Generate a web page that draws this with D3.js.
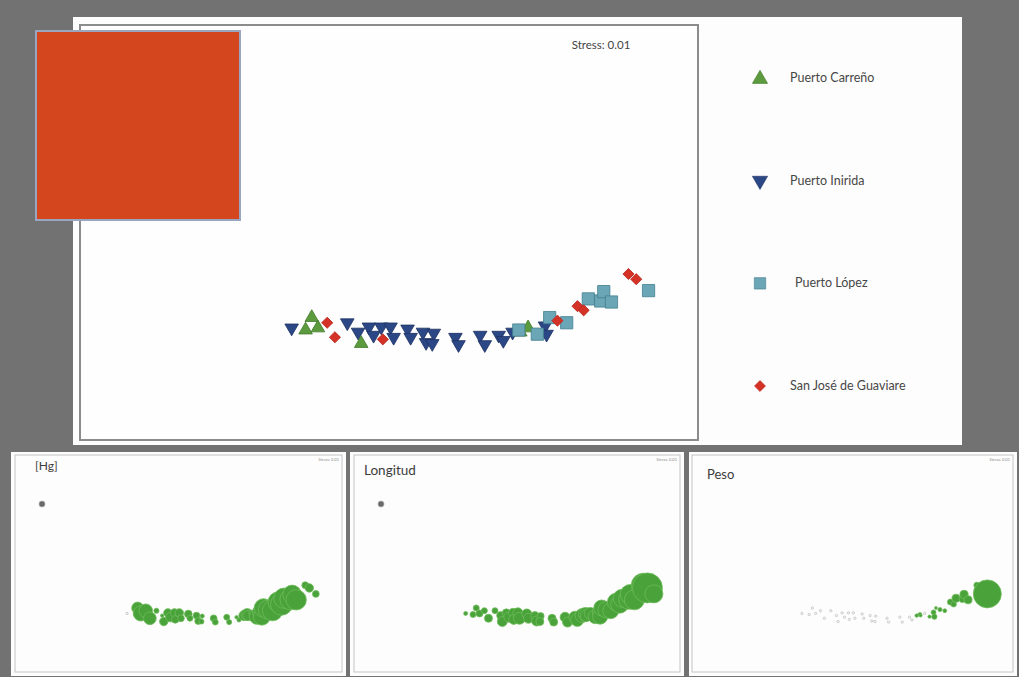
<!DOCTYPE html>
<html>
<head>
<meta charset="utf-8">
<script src="https://cdn.jsdelivr.net/npm/d3@7"></script>
<style>
  html, body { margin: 0; padding: 0; background: #727272; }
  svg { display: block; font-family: Lato, "Open Sans", sans-serif; }
</style>
</head>
<body>
<svg id="chart" width="1019" height="677"></svg>
<script>
// NMDS ordination of fish samples by locality, with bubble plots of three covariates
const siteNames = ["Puerto Carreño", "Puerto Inirida", "Puerto López", "San José de Guaviare"];
const site   = ["I","C","C","C","D","D","I","I","C","I","I","I","D","I","I","I","I","I","I","I","I","I","I","I","I","I","I","I","L","C","C","L","I","I","L","D","L","D","D","L","L","L","L","D","D","L"];
const nmds1  = [-0.63,-0.54,-0.50,-0.46,-0.40,-0.35,-0.27,-0.20,-0.18,-0.13,-0.10,-0.05,-0.04,0.01,0.03,0.12,0.14,0.22,0.24,0.29,0.28,0.43,0.45,0.59,0.62,0.71,0.74,0.80,0.84,0.85,0.90,0.96,1.01,1.02,1.04,1.09,1.15,1.22,1.26,1.29,1.37,1.39,1.44,1.55,1.60,1.68];
const nmds2  = [-0.92,-0.94,-0.82,-0.92,-0.87,-1.01,-0.87,-0.96,-1.07,-0.91,-0.99,-0.91,-1.03,-0.91,-1.01,-0.93,-1.01,-0.96,-1.06,-0.97,-1.07,-1.01,-1.08,-0.99,-1.08,-0.99,-1.04,-0.96,-0.94,-0.96,-0.92,-0.98,-0.90,-0.98,-0.82,-0.85,-0.87,-0.71,-0.75,-0.64,-0.66,-0.57,-0.67,-0.40,-0.45,-0.56];
const hg       = [0.10,0.12,0.70,0.90,0.80,0.75,0.30,0.20,0.50,0.50,0.55,0.50,0.45,0.50,0.40,0.45,0.35,0.40,0.40,0.25,0.30,0.40,0.35,0.35,0.30,0.20,0.25,0.60,0.70,0.60,0.40,0.90,1.00,1.00,1.10,1.10,1.20,1.20,1.30,1.20,1.25,1.10,1.20,0.40,0.50,0.40];
const longitud = [8,12,12,14,12,16,12,16,20,16,20,18,20,20,24,20,20,16,20,14,16,16,16,20,20,24,26,28,28,24,24,28,28,30,32,32,32,36,36,36,40,40,40,48,60,36];
const peso     = [10,15,20,25,15,30,10,20,30,15,25,20,30,25,35,20,25,20,30,15,20,40,35,60,50,90,120,380,420,300,250,350,520,560,300,450,420,640,600,860,700,880,860,650,700,3000];
const stressLabel = "Stress: 0.01";
const panelTitles = ["[Hg]", "Longitud", "Peso"];

const svg = d3.select("#chart");

// style per locality
const siteStyle = {
  C: { fill: "#5c9a3e", stroke: "#3f7a2a", type: d3.symbolTriangle, size: 80, rot: 0 },
  I: { fill: "#2c4785", stroke: "#1d3163", type: d3.symbolTriangle, size: 80, rot: 180 },
  L: { fill: "#6aa6b6", stroke: "#43808f", type: d3.symbolSquare, size: 150, rot: 0 },
  D: { fill: "#d43227", stroke: "#b8281f", type: d3.symbolSquare, size: 62, rot: 45 }
};
const siteKeys = ["C", "I", "L", "D"];

// top panel
svg.append("rect").attr("x", 73).attr("y", 17).attr("width", 889).attr("height", 428).attr("fill", "#fdfdfd");
const main = { x0: 80, x1: 698, y0: 25, y1: 440 };
svg.append("rect").attr("x", main.x0).attr("y", main.y0)
  .attr("width", main.x1 - main.x0).attr("height", main.y1 - main.y0)
  .attr("fill", "#fefefe").attr("stroke", "#8c8c8c").attr("stroke-width", 2);

const x = d3.scaleLinear().domain([-2, 2]).range([main.x0, main.x1]);
const y = d3.scaleLinear().domain([-2, 2]).range([main.y1, main.y0]);

const pts = site.map((s, i) => ({ s, x: nmds1[i], y: nmds2[i], hg: hg[i], len: longitud[i], w: peso[i] }));

// draw in locality order so López/Guaviare sit on top
const drawOrder = ["I", "C", "L", "D"];
drawOrder.forEach(k => {
  svg.append("g").selectAll("path").data(pts.filter(p => p.s === k)).join("path")
    .attr("d", d3.symbol().type(siteStyle[k].type).size(siteStyle[k].size))
    .attr("transform", p => `translate(${x(p.x)},${y(p.y)}) rotate(${siteStyle[k].rot})`)
    .attr("fill", siteStyle[k].fill)
    .attr("stroke", siteStyle[k].stroke)
    .attr("stroke-width", 0.8);
});

svg.append("text").attr("x", 601).attr("y", 49).attr("text-anchor", "middle")
  .attr("font-size", 11.5).attr("fill", "#444").text(stressLabel);

// legend
const legendY = d3.scalePoint().domain(siteKeys).range([78, 386]);
const lg = svg.append("g");
siteKeys.forEach((k, i) => {
  const st = siteStyle[k];
  lg.append("path")
    .attr("d", d3.symbol().type(st.type).size(k === "L" ? 130 : k === "D" ? 60 : 100))
    .attr("transform", `translate(760,${legendY(k) + (k === "C" ? 1 : 0)}) rotate(${st.rot})`)
    .attr("fill", st.fill).attr("stroke", st.stroke).attr("stroke-width", 0.6);
  lg.append("text").attr("x", k === "L" ? 795 : 790).attr("y", legendY(k) + 4)
    .attr("font-size", 12.5).attr("fill", "#474747").text(siteNames[i]);
});

// orange block in the upper left
svg.append("rect").attr("x", 36).attr("y", 31).attr("width", 204).attr("height", 189)
  .attr("fill", "#d4471e").attr("stroke", "#9aa5bf").attr("stroke-width", 2);

// bubble panels
const panels = [
  { ox: 11, ow: 335, fx0: 15, fx1: 342, key: "hg", max: 1.3, rmax: 11, dot: true, tx: 35, ty: 470, fs: 12 },
  { ox: 350, ow: 334, fx0: 354, fx1: 680, key: "len", max: 60, rmax: 15, dot: true, tx: 364, ty: 475, fs: 13.5 },
  { ox: 689, ow: 328, fx0: 692, fx1: 1013, key: "w", max: 3000, rmax: 14, dot: false, tx: 707, ty: 479, fs: 13 }
];
const py0 = 455, py1 = 672;

panels.forEach((p, pi) => {
  const g = svg.append("g");
  g.append("rect").attr("x", p.ox).attr("y", 452).attr("width", p.ow).attr("height", 224).attr("fill", "#fdfdfd");
  g.append("rect").attr("x", p.fx0).attr("y", py0).attr("width", p.fx1 - p.fx0).attr("height", py1 - py0)
    .attr("fill", "none").attr("stroke", "#c4c4c4").attr("stroke-width", 1);

  const px = d3.scaleLinear().domain(x.domain()).range([p.fx0, p.fx1]);
  const pyS = d3.scaleLinear().domain(y.domain()).range([py1, py0]);
  const r = d3.scaleLinear().domain([0, p.max]).range([0, p.rmax]);

  g.append("g").selectAll("circle").data(pts).join("circle")
    .attr("cx", d => px(d.x)).attr("cy", d => pyS(d.y))
    .attr("r", d => Math.max(r(d[p.key]), 1.2))
    .attr("fill", d => r(d[p.key]) < 1.2 ? "#f4f4f4" : "#4aa33a")
    .attr("stroke", d => r(d[p.key]) < 1.2 ? "#a8a8a8" : "#6fbb5c")
    .attr("stroke-width", d => r(d[p.key]) < 1.2 ? 0.5 : 0.8);

  if (p.dot) {
    g.append("circle").attr("cx", p.fx0 + 27).attr("cy", 504).attr("r", 3)
      .attr("fill", "#6a6a6a").attr("stroke", "#aaa").attr("stroke-width", 0.8);
  }
  g.append("text").attr("x", p.tx).attr("y", p.ty).attr("font-size", p.fs).attr("fill", "#3c3c3c").text(panelTitles[pi]);
  g.append("text").attr("x", p.fx1 - 3).attr("y", 461).attr("text-anchor", "end")
    .attr("font-size", 4).attr("fill", "#888").text(stressLabel);
});
</script>
</body>
</html>
